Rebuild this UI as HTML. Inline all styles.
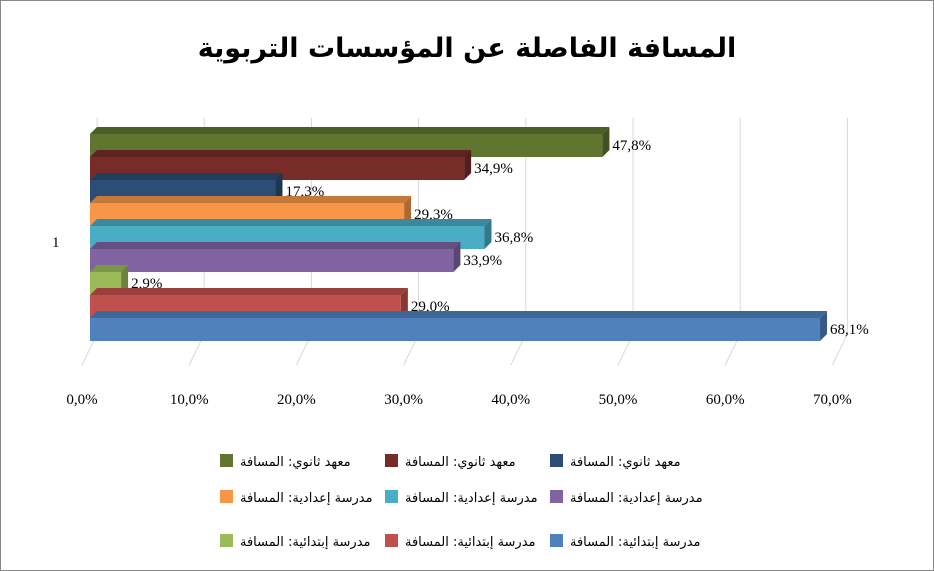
<!DOCTYPE html>
<html><head><meta charset="utf-8"><style>
body{margin:0;background:#fff}
svg{display:block;font-family:"Liberation Serif","DejaVu Serif",serif}
</style></head><body>
<svg width="934" height="571" viewBox="0 0 934 571">
<rect x="0.5" y="0.5" width="933" height="570" fill="#fff" stroke="#888"/>
<text x="467" y="57" text-anchor="middle" font-size="27" font-weight="bold" font-family="'DejaVu Sans',sans-serif">المسافة الفاصلة عن المؤسسات التربوية</text>
<g id="grid"></g>
<g id="bars"></g>
<g id="xticks"></g>
<text x="52" y="247" font-size="15">1</text>
<g id="legend"></g>
<script>
const values=[47.8,34.9,17.3,29.3,36.8,33.9,2.9,29.0,68.1];
const labels=["47,8%","34,9%","17,3%","29,3%","36,8%","33,9%","2,9%","29,0%","68,1%"];
const colors=["#5f7530","#772c2a","#2c4d75","#f79646","#4bacc6","#8064a2","#9bbb59","#c0504d","#4f81bd"];
const ticks=[0,10,20,30,40,50,60,70];
const tickLabels=["0,0%","10,0%","20,0%","30,0%","40,0%","50,0%","60,0%","70,0%"];
const legendNames=["معهد ثانوي: المسافة","معهد ثانوي: المسافة","معهد ثانوي: المسافة","مدرسة إعدادية: المسافة","مدرسة إعدادية: المسافة","مدرسة إعدادية: المسافة","مدرسة إبتدائية: المسافة","مدرسة إبتدائية: المسافة","مدرسة إبتدائية: المسافة"];
const NS="http://www.w3.org/2000/svg";
const x0=90,k=10.72,yTop=134,bh=23,d=7;
const X=v=>x0+v*k;
function mk(tag,attrs,parent){const e=document.createElementNS(NS,tag);for(const a in attrs)e.setAttribute(a,attrs[a]);document.getElementById(parent).appendChild(e);return e;}
function shade(c,f){const n=parseInt(c.slice(1),16);let r=(n>>16)*f,g=((n>>8)&255)*f,b=(n&255)*f;return`rgb(${r|0},${g|0},${b|0})`;}
ticks.forEach((t,i)=>{
  const gx=X(t)+d;
  const l=mk('line',{x1:gx,y1:118,x2:gx,y2:yTop+9*bh-d,stroke:'#d9d9d9'},'grid');
  
  
  const f=mk('line',{x1:gx,y1:yTop+9*bh-d,x2:X(t)-8,y2:365,stroke:'#d9d9d9'},'grid');
  
  
  const tx=mk('text',{x:X(t)-8,y:404,'text-anchor':'middle','font-size':15},'xticks');
  tx.textContent=tickLabels[i];
  
  
});
values.forEach((v,i)=>{
  const y=yTop+i*bh,xe=X(v),c=colors[i];
  const g=mk('g',{},'bars');
  
  
  const tp=document.createElementNS(NS,'polygon');
  tp.setAttribute('points',`${x0},${y} ${x0+d},${y-d} ${xe+d},${y-d} ${xe},${y}`);tp.setAttribute('fill',shade(c,0.8));g.appendChild(tp);
  const sd=document.createElementNS(NS,'polygon');
  sd.setAttribute('points',`${xe},${y} ${xe+d},${y-d} ${xe+d},${y+bh-d} ${xe},${y+bh}`);sd.setAttribute('fill',shade(c,0.7));g.appendChild(sd);
  const r=document.createElementNS(NS,'rect');
  r.setAttribute('x',x0);r.setAttribute('y',y);r.setAttribute('width',xe-x0);r.setAttribute('height',bh);r.setAttribute('fill',c);g.appendChild(r);
  const t=document.createElementNS(NS,'text');
  t.setAttribute('x',xe+10);t.setAttribute('y',y+16);t.setAttribute('font-size',15);t.textContent=labels[i];
  
  
  g.appendChild(t);
});
const lx=[220,385,550],ly=[461,497,541];
legendNames.forEach((n,i)=>{
  const cx=lx[i%3],cy=ly[Math.floor(i/3)];
  const g=mk('g',{},'legend');
  
  
  const r=document.createElementNS(NS,'rect');
  r.setAttribute('x',cx);r.setAttribute('y',cy-7);r.setAttribute('width',13);r.setAttribute('height',13);r.setAttribute('fill',colors[i]);g.appendChild(r);
  const t=document.createElementNS(NS,'text');
  t.setAttribute('x',cx+20);t.setAttribute('y',cy+5);t.setAttribute('font-size',13);t.setAttribute('font-family',"'DejaVu Sans',sans-serif");t.setAttribute('direction','rtl');t.setAttribute('text-anchor','end');
  t.textContent=n;g.appendChild(t);
});
</script>
</svg>
</body></html>
